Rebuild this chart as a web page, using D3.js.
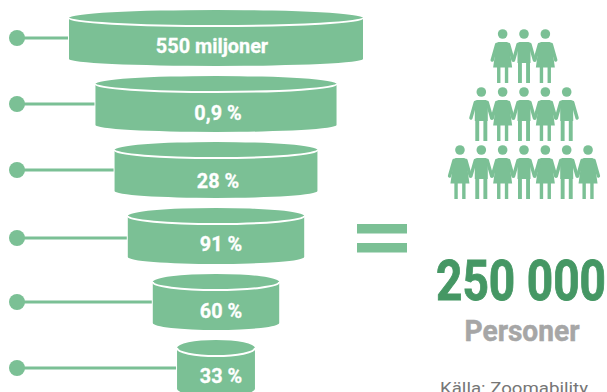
<!DOCTYPE html>
<html>
<head>
<meta charset="utf-8">
<script src="https://cdnjs.cloudflare.com/ajax/libs/d3/7.8.5/d3.min.js"></script>
<style>
html,body{margin:0;padding:0;background:#fff;overflow:hidden}
svg{display:block}
text{font-family:Roboto,sans-serif}
</style>
</head>
<body>
<svg id="chart" width="607" height="392"></svg>
<script>
// Funnel stages, top to bottom
const stageLabels = ["550 miljoner", "0,9 %", "28 %", "91 %", "60 %", "33 %"];
const stageWidths = [100, 82, 69, 60, 43, 26.5];   // relative drum width
const labelShift = [-4, 2, 2, 5, 5, 5];            // label nudge from drum centre
const labelDrop = [0, 1, 3, 0, 1, 0];              // label nudge from drum baseline
const leaderDrop = [0, 0, 0, 2, 0, 0];             // leader nudge from drum middle

// Pictogram rows: f = figure in a skirt, m = figure in trousers
const crowdRows = [
  ["f", "m", "f"],
  ["m", "f", "m", "f", "m"],
  ["f", "m", "f", "m", "f", "m", "f"]
];

const total = "250 000";
const unit = "Personer";
const source = "Källa: Zoomability";

const green = "#7bc095", darkGreen = "#459764", grey = "#a6a6a6";

const svg = d3.select("#chart");

const y = d3.scaleBand().domain(d3.range(stageLabels.length)).range([9, 405]);
const w = d3.scaleLinear().domain([0, 100]).range([0, 294]);
const cx = 216, drumH = 57, topRy = 8, botRy = 7;

const stages = svg.selectAll("g.stage").data(stageLabels).join("g")
  .attr("class", "stage")
  .attr("transform", (d, i) => `translate(0,${y(i)})`);

// Leader: dot plus line running to the drum's left edge
stages.append("line")
  .attr("x1", 17).attr("y1", (d, i) => 29 + leaderDrop[i])
  .attr("x2", (d, i) => cx - w(stageWidths[i]) / 2 - 1).attr("y2", (d, i) => 29 + leaderDrop[i])
  .attr("stroke", green).attr("stroke-width", 2.8);
stages.append("circle")
  .attr("cx", 17).attr("cy", (d, i) => 29 + leaderDrop[i]).attr("r", 8).attr("fill", green);

// Drum body with its domed lid
stages.append("path")
  .attr("fill", green)
  .attr("d", (d, i) => {
    const r = w(stageWidths[i]) / 2;
    return `M${cx - r},${topRy + 1}V${drumH - botRy}A${r},${botRy} 0 0 0 ${cx + r},${drumH - botRy}V${topRy + 1}A${r},${topRy} 0 0 0 ${cx - r},${topRy + 1}Z`;
  });
// Seam under the lid
stages.append("path")
  .attr("fill", "none").attr("stroke", "#fff").attr("stroke-width", 2)
  .attr("d", (d, i) => {
    const r = w(stageWidths[i]) / 2;
    return `M${cx - r},${topRy + 1}A${r},${topRy} 0 0 0 ${cx + r},${topRy + 1}`;
  });
stages.append("text")
  .attr("x", (d, i) => cx + labelShift[i])
  .attr("y", (d, i) => 44 + labelDrop[i])
  .attr("text-anchor", "middle")
  .attr("fill", "#fff")
  .attr("stroke", "#fff").attr("stroke-width", 0.3)
  .attr("font-weight", 700)
  .attr("font-size", 21)
  .each(function (d) {
    // condensed setting
    const t = d3.select(this).text(d);
    const len = this.getComputedTextLength();
    t.attr("textLength", len * 0.945).attr("lengthAdjust", "spacingAndGlyphs");
  });

// Equals sign
const eq = svg.append("g").attr("fill", green);
[224, 243].forEach(top => eq.append("rect").attr("x", 357).attr("y", top).attr("width", 50).attr("height", 9.5));

// Pictogram crowd
const step = 21.35, crowdX = 524;
const rowY = d3.scaleLinear().domain([0, 2]).range([34, 150]);

function person(g, kind) {
  g.append("circle").attr("cx", 0).attr("cy", 0).attr("r", 4.8);
  g.append("path").attr("d", kind === "f"
    ? "M-4,8H4Q6,8 6.4,11L9.5,33.5H5.6V49H2.2V33.5H-2.2V49H-5.6V33.5H-9.5L-6.4,11Q-6,8 -4,8Z"
    : "M-4.5,8H4.5Q6.5,8 6.5,10.5V29H6V49H2.1V29H-2.1V49H-6V29H-6.5V10.5Q-6.5,8 -4.5,8Z");
  g.append("path")
    .attr("fill", "none").attr("stroke", green).attr("stroke-width", 3.4).attr("stroke-linecap", "round")
    .attr("d", "M-6,10.5L-10.4,26M6,10.5L10.4,26");
}

crowdRows.forEach((row, r) => {
  row.forEach((kind, i) => {
    const g = svg.append("g").attr("fill", green)
      .attr("transform", `translate(${crowdX + (i - (row.length - 1) / 2) * step},${rowY(r)})`);
    person(g, kind);
  });
});

// Total and source
function fit(sel, width) {
  sel.attr("textLength", width).attr("lengthAdjust", "spacingAndGlyphs");
  return sel;
}
fit(svg.append("text").attr("x", 436).attr("y", 300)
  .attr("fill", darkGreen).attr("stroke", darkGreen).attr("stroke-width", 0.9)
  .attr("font-weight", 700).attr("font-size", 56).text(total), 170);
fit(svg.append("text").attr("x", 522).attr("y", 341).attr("text-anchor", "middle")
  .attr("fill", grey).attr("stroke", grey).attr("stroke-width", 0.5)
  .attr("font-weight", 700).attr("font-size", 30).text(unit), 115);
fit(svg.append("text").attr("x", 514).attr("y", 394).attr("text-anchor", "middle")
  .attr("fill", "#767676").attr("font-size", 17).text(source), 148);
</script>
</body>
</html>
